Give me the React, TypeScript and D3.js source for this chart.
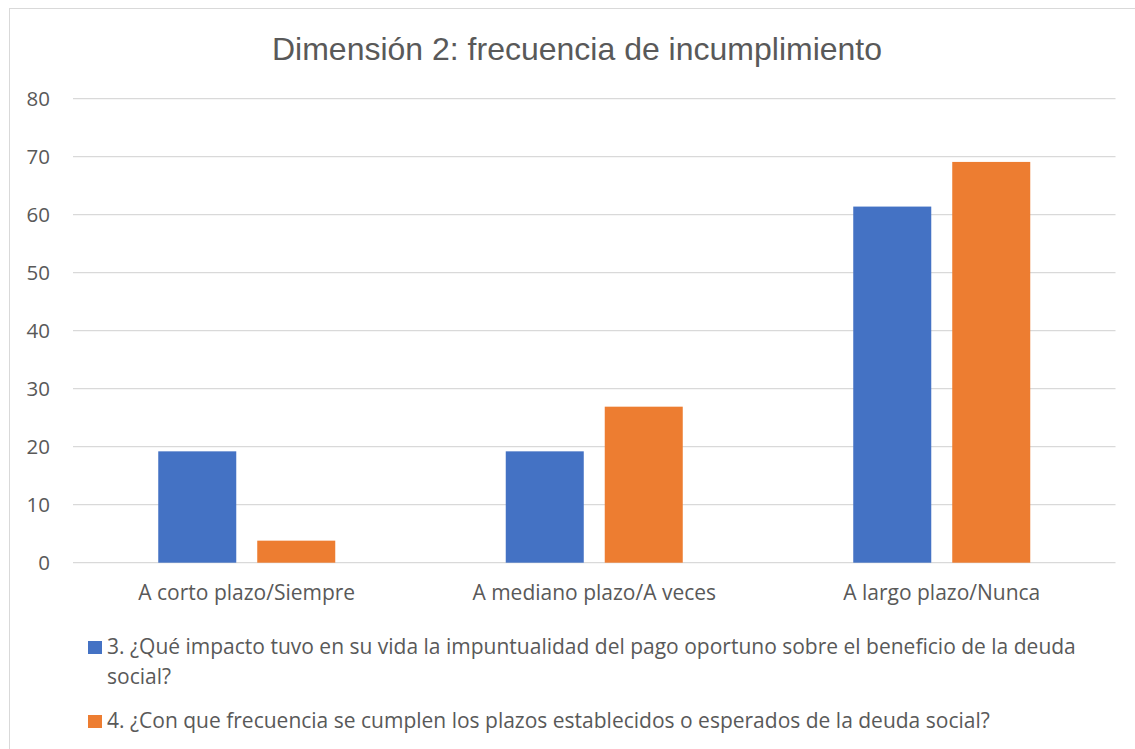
import React from "react";
import * as d3 from "d3";

const categories: string[] = ["A corto plazo/Siempre", "A mediano plazo/A veces", "A largo plazo/Nunca"];
const seriesNames: string[] = [
  "3. ¿Qué impacto tuvo en su vida la impuntualidad del pago oportuno sobre el beneficio de la deuda social?",
  "4. ¿Con que frecuencia se cumplen los plazos establecidos o esperados de la deuda social?",
];
const series1: number[] = [19.2, 19.2, 61.4];
const series2: number[] = [3.8, 26.9, 69.1];
const yTicks: number[] = [0, 10, 20, 30, 40, 50, 60, 70, 80];
const colors: string[] = ["#4472C4", "#ED7D31"];
const title = "Dimensión 2: frecuencia de incumplimiento";

const W = 1135;
const H = 749;
const FONT = "'Open Sans', 'Noto Sans', sans-serif";
const TEXT = "#595959";

export default function App() {
  const seriesData = [series1, series2];
  const x0 = d3.scaleBand<string>().domain(categories).range([73, 1115.5]).padding(0);
  const half = 88.5;
  const x1 = d3
    .scaleBand<number>()
    .domain([0, 1])
    .range([-half, half])
    .paddingInner(0.212)
    .paddingOuter(0);
  const y = d3.scaleLinear().domain([0, 80]).range([562.7, 98.7]);

  const legendLines: string[][] = [
    [
      "3. ¿Qué impacto tuvo en su vida la impuntualidad del pago oportuno sobre el beneficio de la deuda",
      "social?",
    ],
    ["4. ¿Con que frecuencia se cumplen los plazos establecidos o esperados de la deuda social?"],
  ];
  const legendY = [654, 728];

  return (
    <svg
      width={W}
      height={H}
      style={{ position: "absolute", left: 0, top: 0, background: "#fff" }}
      xmlns="http://www.w3.org/2000/svg"
    >
      <rect x={0} y={0} width={W} height={H} fill="#fff" />
      <rect x={9.5} y={8.5} width={1300} height={900} fill="#fff" stroke="#D9D9D9" strokeWidth={1} />
      <text
        x={577}
        y={60}
        textAnchor="middle"
        fontFamily="'Liberation Sans', Arial, sans-serif"
        fontSize={32}
        fill={TEXT}
      >
        {title}
      </text>
      {yTicks.map((t) => (
        <g key={t}>
          <line x1={73} x2={1115.5} y1={y(t)} y2={y(t)} stroke="#D9D9D9" strokeWidth={1.3} />
          <text x={50} y={y(t)} dy="0.36em" textAnchor="end" fontFamily={FONT} fontSize={20.5} fill={TEXT}>
            {t}
          </text>
        </g>
      ))}
      {categories.map((c, ci) => {
        const cx = (x0(c) as number) + x0.bandwidth() / 2;
        return (
          <g key={c}>
            {seriesData.map((s, si) => (
              <rect
                key={si}
                x={cx + (x1(si) as number)}
                y={y(s[ci])}
                width={x1.bandwidth()}
                height={y(0) - y(s[ci])}
                fill={colors[si]}
              />
            ))}
            <text x={cx} y={600} textAnchor="middle" fontFamily={FONT} fontSize={21} fill={TEXT}>
              {c}
            </text>
          </g>
        );
      })}
      {seriesNames.map((n, i) => (
        <g key={n}>
          <rect x={88} y={legendY[i] - 13} width={14} height={13} fill={colors[i]} />
          {legendLines[i].map((line, li) => (
            <text
              key={li}
              x={107}
              y={legendY[i] + li * 30}
              fontFamily={FONT}
              fontSize={21}
              fill={TEXT}
            >
              {line}
            </text>
          ))}
        </g>
      ))}
    </svg>
  );
}
